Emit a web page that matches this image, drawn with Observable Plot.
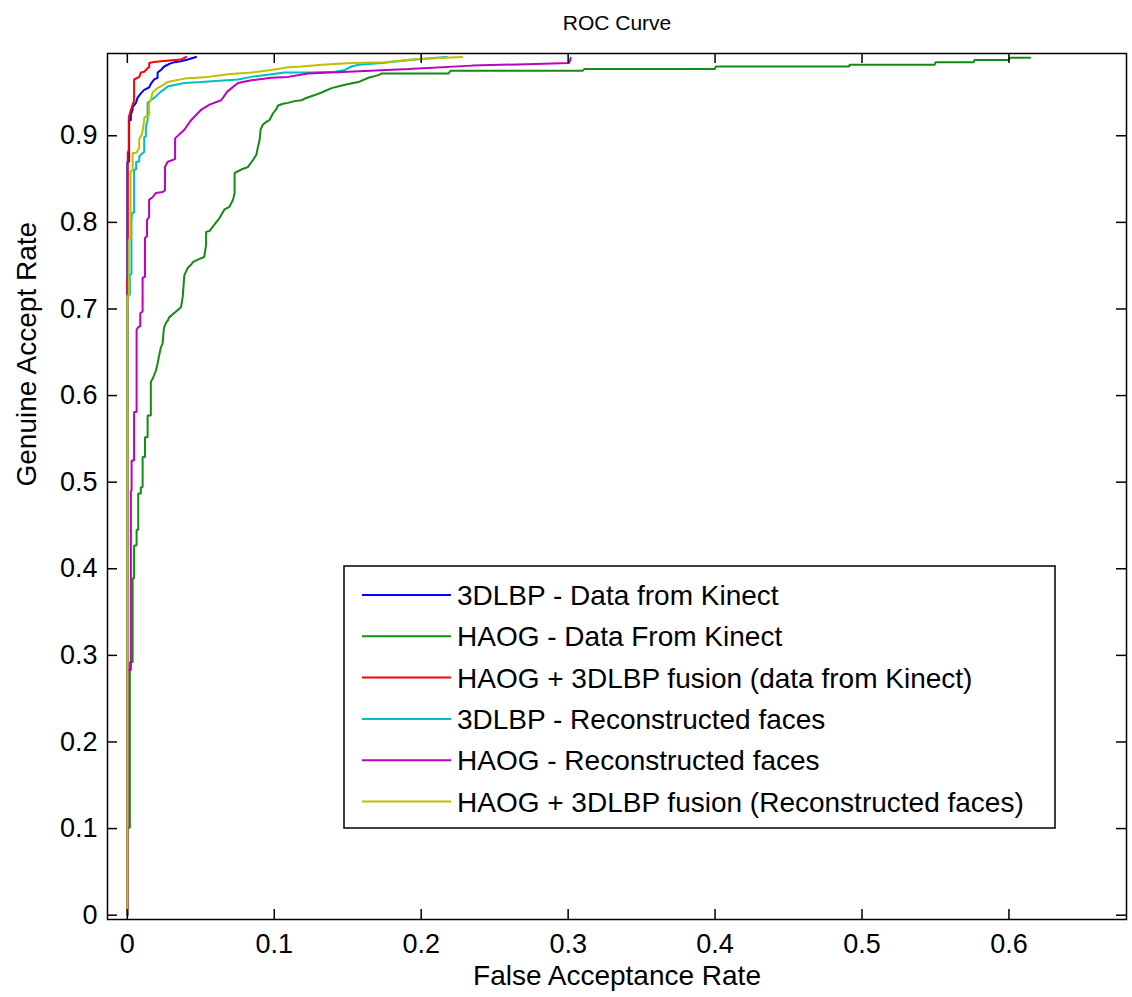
<!DOCTYPE html>
<html>
<head>
<meta charset="utf-8">
<script src="https://cdn.jsdelivr.net/npm/d3@7"></script>
<script src="https://cdn.jsdelivr.net/npm/@observablehq/plot@0.6"></script>
<style>
  html, body { margin: 0; padding: 0; background: #fff; }
  #chart svg { display: block; }
</style>
</head>
<body>
<div id="chart"></div>
<script>
// ---------- data ----------
const seriesNames = [
  "3DLBP - Data from Kinect",
  "HAOG - Data From Kinect",
  "HAOG + 3DLBP fusion (data from Kinect)",
  "3DLBP - Reconstructed faces",
  "HAOG - Reconstructed faces",
  "HAOG + 3DLBP fusion (Reconstructed faces)"
];
const seriesColors = ["#0000ff", "#138c13", "#ff0000", "#00bfbf", "#bf00bf", "#bfbf00"];

const xTicks = [0, 0.1, 0.2, 0.3, 0.4, 0.5, 0.6];
const yTicks = [0, 0.1, 0.2, 0.3, 0.4, 0.5, 0.6, 0.7, 0.8, 0.9];
const titleText = "ROC Curve";
const xLabel = "False Acceptance Rate";
const yLabel = "Genuine Accept Rate";

// [false acceptance rate, genuine accept rate]
const lbpKinect = [[0,0],[0,0.87],[0.0012,0.87],[0.0012,0.918],[0.0024,0.918],[0.0024,0.924],[0.0036,0.93],[0.0036,0.933],[0.0058,0.938],[0.007,0.944],[0.0092,0.949],[0.0115,0.953],[0.0149,0.956],[0.016,0.96],[0.0183,0.965],[0.0206,0.967],[0.0206,0.973],[0.0229,0.976],[0.0251,0.98],[0.0286,0.983],[0.032,0.985],[0.0365,0.986],[0.0411,0.988],[0.0468,0.991]];

const haogKinect = [[0,0],[0,0.101],[0.0017,0.101],[0.0017,0.292],[0.0036,0.292],[0.0036,0.389],[0.0046,0.389],[0.0046,0.427],[0.0063,0.427],[0.0063,0.445],[0.0074,0.445],[0.0074,0.487],[0.0092,0.487],[0.0092,0.494],[0.0104,0.494],[0.0104,0.529],[0.012,0.529],[0.012,0.552],[0.0138,0.552],[0.0138,0.577],[0.016,0.577],[0.016,0.616],[0.0174,0.62],[0.0195,0.629],[0.0206,0.637],[0.0215,0.645],[0.0229,0.656],[0.024,0.66],[0.0249,0.678],[0.0263,0.684],[0.0277,0.687],[0.0283,0.69],[0.0365,0.702],[0.0377,0.714],[0.0388,0.739],[0.0413,0.748],[0.0434,0.751],[0.0445,0.754],[0.048,0.757],[0.0523,0.76],[0.0536,0.774],[0.0536,0.789],[0.0559,0.79],[0.0582,0.795],[0.0627,0.805],[0.0661,0.815],[0.0695,0.818],[0.0719,0.826],[0.073,0.834],[0.073,0.857],[0.0775,0.861],[0.0821,0.864],[0.0855,0.872],[0.0878,0.878],[0.0889,0.887],[0.09,0.895],[0.0907,0.907],[0.0923,0.913],[0.0946,0.916],[0.0967,0.918],[0.0992,0.926],[0.1015,0.931],[0.1026,0.935],[0.106,0.937],[0.1094,0.938],[0.1137,0.94],[0.1185,0.941],[0.1208,0.943],[0.1276,0.947],[0.1322,0.95],[0.139,0.955],[0.1481,0.959],[0.1572,0.962],[0.1641,0.967],[0.1709,0.97],[0.1732,0.972],[0.2187,0.972],[0.2198,0.975],[0.3098,0.975],[0.3109,0.977],[0.3999,0.977],[0.4005,0.98],[0.4911,0.98],[0.4916,0.982],[0.5495,0.982],[0.55,0.985],[0.576,0.985],[0.5765,0.9875],[0.6,0.9875],[0.6005,0.99],[0.6144,0.99]];

const fusionKinect = [[0,0],[0,0.737],[0.0003,0.737],[0.0003,0.88],[0.001,0.884],[0.001,0.921],[0.0024,0.93],[0.0029,0.932],[0.0036,0.936],[0.0046,0.941],[0.0046,0.965],[0.007,0.967],[0.0081,0.968],[0.0092,0.973],[0.0115,0.974],[0.0138,0.978],[0.0149,0.979],[0.0149,0.984],[0.0172,0.985],[0.0229,0.986],[0.0286,0.987],[0.0365,0.988],[0.0388,0.99],[0.04,0.991]];

const lbpRecon = [[0,0],[0,0.716],[0.0017,0.716],[0.0017,0.74],[0.0028,0.74],[0.0028,0.8],[0.0031,0.811],[0.0046,0.811],[0.0046,0.861],[0.006,0.861],[0.006,0.87],[0.0081,0.87],[0.0081,0.876],[0.0092,0.878],[0.0115,0.8815],[0.0115,0.899],[0.0126,0.899],[0.0126,0.91],[0.0138,0.918],[0.0138,0.938],[0.016,0.941],[0.0185,0.944],[0.0228,0.951],[0.0246,0.953],[0.0274,0.957],[0.0388,0.961],[0.0502,0.962],[0.0753,0.965],[0.0844,0.968],[0.098,0.971],[0.107,0.973],[0.1231,0.973],[0.1413,0.974],[0.148,0.976],[0.1527,0.98],[0.1573,0.982],[0.1732,0.984],[0.1959,0.988],[0.2164,0.991],[0.2175,0.991]];

const haogRecon = [[0,0],[0,0.283],[0.0024,0.283],[0.0024,0.49],[0.0029,0.49],[0.0029,0.525],[0.0046,0.525],[0.0046,0.581],[0.0063,0.581],[0.0063,0.676],[0.0074,0.679],[0.0088,0.68],[0.0088,0.695],[0.0104,0.697],[0.0104,0.736],[0.012,0.737],[0.012,0.782],[0.0134,0.784],[0.0134,0.803],[0.0148,0.806],[0.0148,0.826],[0.0172,0.829],[0.0195,0.834],[0.024,0.835],[0.0256,0.837],[0.0256,0.864],[0.0275,0.87],[0.0325,0.873],[0.0325,0.897],[0.0388,0.907],[0.0434,0.918],[0.0502,0.93],[0.0559,0.936],[0.0639,0.941],[0.068,0.951],[0.0753,0.961],[0.0844,0.964],[0.098,0.967],[0.1094,0.968],[0.1231,0.972],[0.1504,0.974],[0.1914,0.977],[0.2346,0.981],[0.2779,0.983],[0.3007,0.984],[0.3018,0.99]];

const fusionRecon = [[0,0],[0,0.714],[0.001,0.714],[0.001,0.78],[0.0022,0.78],[0.0022,0.858],[0.0036,0.861],[0.0036,0.88],[0.006,0.88],[0.0081,0.886],[0.0081,0.896],[0.01,0.902],[0.0115,0.918],[0.0115,0.921],[0.0148,0.924],[0.0148,0.938],[0.016,0.941],[0.0171,0.95],[0.0205,0.955],[0.0228,0.957],[0.0273,0.962],[0.0388,0.966],[0.055,0.968],[0.0684,0.971],[0.0844,0.973],[0.098,0.976],[0.1094,0.979],[0.1185,0.98],[0.1322,0.982],[0.1527,0.984],[0.1754,0.985],[0.1937,0.988],[0.2164,0.99],[0.2278,0.991]];

const seriesData = [lbpKinect, haogKinect, fusionKinect, lbpRecon, haogRecon, fusionRecon];

// ---------- table for Plot ----------
const rows = [];
seriesData.forEach((pts, i) => pts.forEach(([x, y]) => rows.push({series: seriesNames[i], x, y})));

// ---------- layout ----------
const W = 1132, H = 997;
const M = {top: 53, right: 6, bottom: 78, left: 107};
const FW = W - M.left - M.right, FH = H - M.top - M.bottom;
const TICK = 10;
const FONT = "'Liberation Sans', Arial, Helvetica, sans-serif";

const plot = Plot.plot({
  width: W, height: H,
  marginTop: M.top, marginRight: M.right, marginBottom: M.bottom, marginLeft: M.left,
  style: {fontFamily: FONT, fontSize: "27px", color: "#000", background: "#fff", overflow: "visible"},
  x: {domain: [-0.0135, 0.68]},
  y: {domain: [-0.005, 0.995]},
  color: {domain: seriesNames, range: seriesColors},
  marks: [
    Plot.line(rows, {x: "x", y: "y", z: "series", stroke: "series", strokeWidth: 2, strokeLinejoin: "miter"}),
    // inward ticks on all four sides (MATLAB style)
    Plot.tickX(xTicks, {x: d => d, insetTop: FH - TICK, stroke: "#000", strokeWidth: 1.5}),
    Plot.tickX(xTicks, {x: d => d, insetBottom: FH - TICK, stroke: "#000", strokeWidth: 1.5}),
    Plot.tickY(yTicks, {y: d => d, insetRight: FW - TICK, stroke: "#000", strokeWidth: 1.5}),
    Plot.tickY(yTicks, {y: d => d, insetLeft: FW - TICK, stroke: "#000", strokeWidth: 1.5}),
    Plot.frame({stroke: "#000", strokeWidth: 1.5}),
    Plot.axisX({ticks: xTicks, anchor: "bottom", tickSize: 0, tickPadding: 14, label: null, tickFormat: d => String(+d.toFixed(1)), fontSize: 27}),
    Plot.axisY({ticks: yTicks, anchor: "left", tickSize: 0, tickPadding: 10, label: null, tickFormat: d => String(+d.toFixed(1)), fontSize: 27}),
    Plot.text([titleText], {text: d => d, frameAnchor: "top", dy: -38, fontSize: 21}),
    Plot.text([xLabel], {text: d => d, frameAnchor: "bottom", dy: 65, fontSize: 28}),
    Plot.text([yLabel], {text: d => d, frameAnchor: "left", dx: -80, rotate: -90, fontSize: 28})
  ]
});

// ---------- legend (inside the axes, as in the reference) ----------
const svg = d3.select(plot);
const LG = {x0: 344, y0: 566, x1: 1055, y1: 828, row0: 595, step: 41.3, lx0: 362, lx1: 451, tx: 457};
const lg = svg.append("g").attr("font-family", FONT).attr("font-size", 28).attr("text-anchor", "start");
lg.append("rect")
  .attr("x", LG.x0).attr("y", LG.y0)
  .attr("width", LG.x1 - LG.x0).attr("height", LG.y1 - LG.y0)
  .attr("fill", "#fff").attr("stroke", "#000").attr("stroke-width", 1.5);
seriesNames.forEach((name, i) => {
  const cy = LG.row0 + i * LG.step;
  lg.append("line")
    .attr("x1", LG.lx0).attr("x2", LG.lx1).attr("y1", cy).attr("y2", cy)
    .attr("stroke", seriesColors[i]).attr("stroke-width", 2);
  lg.append("text")
    .attr("x", LG.tx).attr("y", cy).attr("dy", "0.36em")
    .attr("text-anchor", "start")
    .attr("fill", "#000").text(name);
});

document.getElementById("chart").appendChild(plot);
</script>
</body>
</html>
